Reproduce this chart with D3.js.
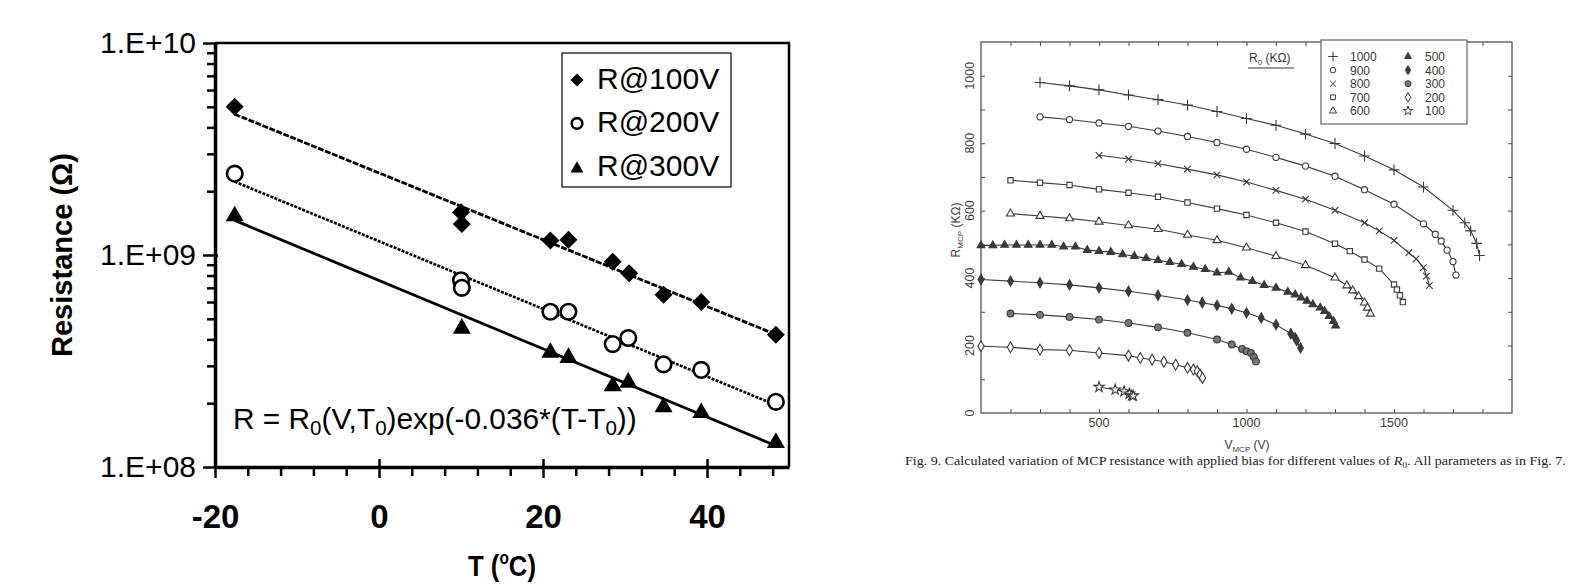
<!DOCTYPE html>
<html>
<head>
<meta charset="utf-8">
<script src="https://cdn.jsdelivr.net/npm/d3@7"></script>
<style>
  body { margin: 0; background: #fff; }
  svg { display: block; }
</style>
</head>
<body>
<script>
  // ============================================================
  // Data
  // ============================================================

  // left figure: resistance vs temperature (log scale)
  const r100T = [-17.6, 10.0, 10.1, 20.9, 23.1, 28.5, 30.5, 34.7, 39.3, 48.4];
  const r100R = [5.0e9, 1.59e9, 1.40e9, 1.17e9, 1.18e9, 9.3e8, 8.2e8, 6.5e8, 6.0e8, 4.2e8];
  const r200T = [-17.6, 10.0, 10.1, 20.9, 23.1, 28.5, 30.4, 34.7, 39.3, 48.4];
  const r200R = [2.42e9, 7.6e8, 7.0e8, 5.4e8, 5.4e8, 3.8e8, 4.06e8, 3.05e8, 2.87e8, 2.03e8];
  const r300T = [-17.6, 10.1, 20.9, 23.1, 28.5, 30.4, 34.7, 39.3, 48.4];
  const r300R = [1.56e9, 4.6e8, 3.54e8, 3.35e8, 2.46e8, 2.56e8, 1.96e8, 1.84e8, 1.33e8];
  const leftSeriesNames = ["R@100V", "R@200V", "R@300V"];
  const tempTicks = [-20, 0, 20, 40];
  const tempMinorTicks = [-16, -12, -8, -4, 4, 8, 12, 16, 24, 28, 32, 36, 44, 48];
  const resTicks = [1e8, 1e9, 1e10];
  const resMinorTicks = [2e8, 3e8, 4e8, 5e8, 6e8, 7e8, 8e8, 9e8, 2e9, 3e9, 4e9, 5e9, 6e9, 7e9, 8e9, 9e9];

  // right figure: MCP resistance vs bias, one series per R0 (kOhm)
  const r0Names = ["1000", "900", "800", "700", "600", "500", "400", "300", "200", "100"];
  const v1000 = [300, 400, 500, 600, 700, 800, 900, 1000, 1100, 1200, 1300, 1400, 1500, 1600, 1700, 1740, 1760, 1780, 1790];
  const rm1000 = [980, 970, 958, 943, 929, 913, 894, 873, 853, 827, 799, 762, 721, 670, 601, 564, 540, 503, 467];
  const v900 = [300, 400, 500, 600, 700, 800, 900, 1000, 1100, 1200, 1300, 1400, 1500, 1600, 1640, 1660, 1680, 1700, 1710];
  const rm900 = [878, 870, 860, 850, 836, 820, 802, 782, 758, 732, 702, 662, 619, 561, 530, 510, 483, 449, 409];
  const v800 = [500, 600, 700, 800, 900, 1000, 1100, 1200, 1300, 1400, 1450, 1500, 1550, 1575, 1600, 1610, 1620];
  const rm800 = [764, 753, 739, 723, 706, 685, 660, 634, 601, 564, 540, 512, 475, 457, 431, 406, 378];
  const v700 = [200, 300, 400, 500, 600, 700, 800, 900, 1000, 1100, 1200, 1300, 1350, 1400, 1450, 1500, 1510, 1520, 1530];
  const rm700 = [690, 683, 676, 663, 653, 641, 624, 606, 587, 564, 538, 502, 480, 455, 428, 381, 366, 349, 329];
  const v600 = [200, 300, 400, 500, 600, 700, 800, 900, 1000, 1100, 1200, 1300, 1340, 1360, 1380, 1400, 1410, 1420];
  const rm600 = [591, 584, 577, 567, 556, 545, 528, 512, 490, 465, 438, 401, 378, 363, 346, 327, 312, 294];
  const v500 = [100, 140, 180, 220, 260, 300, 340, 380, 420, 460, 500, 540, 580, 620, 660, 700, 740, 780, 820, 860,
    900, 940, 980, 1020, 1060, 1100, 1140, 1165, 1185, 1205, 1225, 1250, 1265, 1280, 1295, 1302];
  const rm500 = [497, 497, 498, 498, 498, 498, 498, 493, 493, 483, 480, 477, 470, 465, 459, 453, 447, 441, 433, 426,
    416, 418, 401, 391, 379, 371, 359, 351, 342, 332, 322, 312, 302, 287, 272, 259];
  const v400 = [100, 200, 300, 400, 500, 600, 700, 800, 850, 900, 950, 1000, 1050, 1100, 1150, 1165, 1170, 1183];
  const rm400 = [396, 391, 386, 380, 371, 361, 349, 335, 327, 319, 309, 297, 282, 262, 235, 223, 215, 193];
  const v300 = [200, 300, 400, 500, 600, 700, 800, 900, 950, 985, 1000, 1015, 1025, 1032];
  const rm300 = [295, 291, 285, 277, 267, 254, 238, 218, 203, 190, 183, 178, 166, 153];
  const v200 = [100, 200, 300, 400, 500, 600, 640, 680, 720, 760, 800, 820, 833, 842, 851];
  const rm200 = [198, 195, 188, 186, 178, 170, 163, 158, 152, 143, 134, 129, 124, 114, 104];
  const v100 = [500, 555, 585, 603, 611, 616];
  const rm100 = [77, 69, 64, 57, 52, 51];
  const biasTicks = [500, 1000, 1500];
  const rmcpTicks = [0, 200, 400, 600, 800, 1000];

  // ============================================================
  // Setup
  // ============================================================

  const W = 1573, H = 585;
  const svg = d3.select("body").append("svg")
    .attr("width", W).attr("height", H)
    .style("background", "#fff");

  const SANS = "'Liberation Sans', Arial, sans-serif";
  const NARROW = "'Liberation Sans Narrow', 'Arial Narrow', 'Liberation Sans', sans-serif";

  // squeeze a text element horizontally to a given width, keeping its anchor point
  function fitWidth(sel, width, ax) {
    const w = sel.node().getBBox().width;
    if (!w) return;
    const s = width / w;
    sel.attr("transform", `translate(${ax},0) scale(${s},1) translate(${-ax},0)`);
  }

  // ============================================================
  // Left chart
  // ============================================================

  const xL = d3.scaleLinear().domain([-20, 50]).range([215, 789]);
  const yL = d3.scaleLog().domain([1e8, 1e10]).range([467, 43]);
  const left = svg.append("g").attr("class", "left-chart");

  // frame (top & right)
  left.append("path")
    .attr("d", `M${xL(-20)},${yL(1e10)}H${xL(50)}V${yL(1e8)}`)
    .attr("fill", "none").attr("stroke", "#000").attr("stroke-width", 2.5);

  // x minor ticks
  left.append("g")
    .attr("transform", `translate(0,${yL(1e8)})`)
    .call(d3.axisBottom(xL).tickValues(tempMinorTicks).tickSize(9).tickFormat(""))
    .call(g => g.select(".domain").remove())
    .call(g => g.selectAll(".tick line").attr("stroke-width", 2.5));

  // x major axis
  const gxL = left.append("g")
    .attr("transform", `translate(0,${yL(1e8)})`)
    .call(d3.axisBottom(xL).tickValues(tempTicks).tickSize(11).tickSizeOuter(0)
      .tickPadding(27).tickFormat(d => String(d)));
  gxL.select(".domain").attr("stroke-width", 3.5);
  gxL.selectAll(".tick line").attr("y1", -8).attr("stroke-width", 2.5);
  gxL.selectAll(".tick text")
    .attr("font-family", NARROW).attr("font-weight", "bold")
    .attr("font-size", 33).attr("fill", "#000");

  // y minor ticks
  left.append("g")
    .attr("transform", `translate(${xL(-20)},0)`)
    .call(d3.axisLeft(yL).tickValues(resMinorTicks).tickSize(8).tickFormat(""))
    .call(g => g.select(".domain").remove())
    .call(g => g.selectAll(".tick line").attr("stroke-width", 2.5));

  // y major axis
  const gyL = left.append("g")
    .attr("transform", `translate(${xL(-20)},0)`)
    .call(d3.axisLeft(yL).tickValues(resTicks).tickSize(12).tickSizeOuter(0)
      .tickPadding(7).tickFormat(d => "1.E+" + String(Math.round(Math.log10(d))).padStart(2, "0")));
  gyL.select(".domain").attr("stroke-width", 3.5);
  gyL.selectAll(".tick line").attr("x1", 3).attr("stroke-width", 2.5);
  gyL.selectAll(".tick text")
    .attr("font-family", SANS).attr("font-size", 30).attr("fill", "#000");

  // axis titles, centred on the plot area
  const plotMidX = (xL.range()[0] + xL.range()[1]) / 2;
  const plotMidY = (yL.range()[0] + yL.range()[1]) / 2;

  left.append("text")
    .attr("transform", `translate(72,${plotMidY}) rotate(-90)`)
    .attr("text-anchor", "middle")
    .attr("font-family", SANS).attr("font-weight", "bold").attr("font-size", 29)
    .attr("textLength", 204).attr("lengthAdjust", "spacingAndGlyphs")
    .text("Resistance (Ω)");

  const xTitle = left.append("text")
    .attr("x", plotMidX).attr("y", 576)
    .attr("text-anchor", "middle")
    .attr("font-family", NARROW).attr("font-weight", "bold").attr("font-size", 30);
  xTitle.append("tspan").text("T (");
  xTitle.append("tspan").attr("font-size", 18).attr("dy", -12).text("o");
  xTitle.append("tspan").attr("dy", 12).text("C)");
  fitWidth(xTitle, 68, plotMidX);

  // series: fitted lines + markers
  const leftSeries = [
    { name: leftSeriesNames[0], T: r100T, R: r100R, shape: "diamond", dash: "6,1.5", width: 2.8 },
    { name: leftSeriesNames[1], T: r200T, R: r200R, shape: "circle", dash: "3,1.3", width: 2.6 },
    { name: leftSeriesNames[2], T: r300T, R: r300R, shape: "triangle", dash: null, width: 2.8 },
  ];

  // least squares fit of log10(R) against T
  function fitLog(T, R) {
    const n = T.length;
    const ly = R.map(Math.log10);
    const mx = d3.mean(T), my = d3.mean(ly);
    let sxy = 0, sxx = 0;
    for (let i = 0; i < n; i++) {
      sxy += (T[i] - mx) * (ly[i] - my);
      sxx += (T[i] - mx) * (T[i] - mx);
    }
    const b = sxy / sxx;
    return t => Math.pow(10, my + b * (t - mx));
  }

  const markerPath = {
    diamond: (s) => d3.symbol(d3.symbolSquare, s * s / 2)(),
    triangle: (s) => d3.symbol(d3.symbolTriangle, Math.sqrt(3) / 4 * s * s)(),
  };

  function drawLeftMarker(g, shape, x, y, s) {
    if (shape === "circle") {
      g.append("circle").attr("cx", x).attr("cy", y).attr("r", s / 2 - 1.2)
        .attr("fill", "#fff").attr("stroke", "#000").attr("stroke-width", 2.6);
    } else if (shape === "diamond") {
      g.append("path").attr("d", markerPath.diamond(s))
        .attr("transform", `translate(${x},${y}) rotate(45)`).attr("fill", "#000");
    } else {
      g.append("path").attr("d", markerPath.triangle(s))
        .attr("transform", `translate(${x},${y + 2})`).attr("fill", "#000");
    }
  }

  leftSeries.forEach(s => {
    const f = fitLog(s.T, s.R);
    const t0 = d3.min(s.T), t1 = d3.max(s.T);
    left.append("line")
      .attr("x1", xL(t0)).attr("y1", yL(f(t0)))
      .attr("x2", xL(t1)).attr("y2", yL(f(t1)))
      .attr("stroke", "#000").attr("stroke-width", s.width)
      .attr("stroke-dasharray", s.dash);
  });

  leftSeries.forEach(s => {
    const g = left.append("g").attr("class", "markers");
    s.T.forEach((t, i) => drawLeftMarker(g, s.shape, xL(t), yL(s.R[i]), 18));
  });

  // legend
  const legL = left.append("g").attr("class", "legend");
  legL.append("rect")
    .attr("x", 562).attr("y", 53).attr("width", 169).attr("height", 134)
    .attr("fill", "#fff").attr("stroke", "#000").attr("stroke-width", 1.2);
  leftSeries.forEach((s, i) => {
    const cy = 80 + i * 43.4;
    drawLeftMarker(legL, s.shape, 577, cy, 13);
    legL.append("text")
      .attr("x", 597).attr("y", cy + 9)
      .attr("font-family", SANS).attr("font-size", 30)
      .text(s.name);
  });

  // equation
  const eq = left.append("text")
    .attr("x", 233).attr("y", 429)
    .attr("font-family", SANS).attr("font-size", 29);
  eq.append("tspan").text("R = R");
  eq.append("tspan").attr("font-size", 20).attr("dy", 6).text("0");
  eq.append("tspan").attr("dy", -6).text("(V,T");
  eq.append("tspan").attr("font-size", 20).attr("dy", 6).text("0");
  eq.append("tspan").attr("dy", -6).text(")exp(-0.036*(T-T");
  eq.append("tspan").attr("font-size", 20).attr("dy", 6).text("0");
  eq.append("tspan").attr("dy", -6).text("))");
  fitWidth(eq, 404, 233);

  // ============================================================
  // Right chart
  // ============================================================

  const INK = "#3a3a3a";
  const xR = d3.scaleLinear().domain([100, 1900]).range([981, 1512]);
  const yR = d3.scaleLinear().domain([0, 1100]).range([413, 42]);
  const right = svg.append("g").attr("class", "right-chart");

  right.append("rect")
    .attr("x", xR(100)).attr("y", yR(1100))
    .attr("width", xR(1900) - xR(100)).attr("height", yR(0) - yR(1100))
    .attr("fill", "none").attr("stroke", "#555").attr("stroke-width", 1.3);

  const vTicks = d3.range(200, 1900, 100);
  const rTicks = d3.range(100, 1100, 100);
  const tickStyle = g => {
    g.select(".domain").remove();
    g.selectAll(".tick line").attr("stroke", "#555").attr("stroke-width", 1.1);
  };
  right.append("g").attr("transform", `translate(0,${yR(0)})`)
    .call(d3.axisTop(xR).tickValues(vTicks).tickSize(4).tickFormat("")).call(tickStyle);
  right.append("g").attr("transform", `translate(0,${yR(1100)})`)
    .call(d3.axisBottom(xR).tickValues(vTicks).tickSize(4).tickFormat("")).call(tickStyle);
  right.append("g").attr("transform", `translate(${xR(100)},0)`)
    .call(d3.axisRight(yR).tickValues(rTicks).tickSize(4).tickFormat("")).call(tickStyle);
  right.append("g").attr("transform", `translate(${xR(1900)},0)`)
    .call(d3.axisLeft(yR).tickValues(rTicks).tickSize(4).tickFormat("")).call(tickStyle);

  // tick labels
  right.append("g").selectAll("text")
    .data(biasTicks).join("text")
    .attr("x", d => xR(d)).attr("y", yR(0) + 14)
    .attr("text-anchor", "middle")
    .attr("font-family", SANS).attr("font-size", 12.5).attr("fill", INK)
    .text(d => d);
  right.append("g").selectAll("text")
    .data(rmcpTicks).join("text")
    .attr("transform", d => `translate(${xR(100) - 7},${yR(d)}) rotate(-90)`)
    .attr("text-anchor", "middle")
    .attr("font-family", SANS).attr("font-size", 12.5).attr("fill", INK)
    .text(d => d);

  // axis titles
  const xTitleR = right.append("text")
    .attr("x", 1247).attr("y", 449).attr("text-anchor", "middle")
    .attr("font-family", SANS).attr("font-size", 12).attr("fill", INK);
  xTitleR.append("tspan").text("V");
  xTitleR.append("tspan").attr("font-size", 8).attr("dy", 3).text("MCP");
  xTitleR.append("tspan").attr("dy", -3).text(" (V)");

  const yTitleR = right.append("text")
    .attr("transform", "translate(960,230) rotate(-90)").attr("text-anchor", "middle")
    .attr("font-family", SANS).attr("font-size", 12).attr("fill", INK);
  yTitleR.append("tspan").text("R");
  yTitleR.append("tspan").attr("font-size", 8).attr("dy", 3).text("MCP");
  yTitleR.append("tspan").attr("dy", -3).text(" (KΩ)");

  // series
  const rightSeries = [
    { name: r0Names[0], V: v1000, R: rm1000, sym: d3.symbolPlus, size: 40, fill: "none" },
    { name: r0Names[1], V: v900, R: rm900, sym: d3.symbolCircle, size: 30, fill: "#fff" },
    { name: r0Names[2], V: v800, R: rm800, sym: d3.symbolTimes, size: 30, fill: "none" },
    { name: r0Names[3], V: v700, R: rm700, sym: d3.symbolSquare, size: 28, fill: "#fff" },
    { name: r0Names[4], V: v600, R: rm600, sym: d3.symbolTriangle, size: 28, fill: "#fff" },
    { name: r0Names[5], V: v500, R: rm500, sym: d3.symbolTriangle, size: 26, fill: INK },
    { name: r0Names[6], V: v400, R: rm400, sym: d3.symbolDiamond, size: 30, fill: INK },
    { name: r0Names[7], V: v300, R: rm300, sym: d3.symbolCircle, size: 36, fill: "#777" },
    { name: r0Names[8], V: v200, R: rm200, sym: d3.symbolDiamond, size: 34, fill: "#fff" },
    { name: r0Names[9], V: v100, R: rm100, sym: d3.symbolStar, size: 34, fill: "#fff" },
  ];

  const lineR = d3.line().x(d => xR(d[0])).y(d => yR(d[1]));

  rightSeries.forEach(s => {
    const pts = s.V.map((v, i) => [v, s.R[i]]);
    right.append("path")
      .attr("d", lineR(pts))
      .attr("fill", "none").attr("stroke", INK).attr("stroke-width", 1.1);
    right.append("g").selectAll("path")
      .data(pts).join("path")
      .attr("d", d3.symbol(s.sym, s.size))
      .attr("transform", d => `translate(${xR(d[0])},${yR(d[1])})`)
      .attr("fill", s.fill).attr("stroke", INK).attr("stroke-width", 1.1);
  });

  // R0 heading
  const r0Head = right.append("text")
    .attr("x", 1249).attr("y", 62)
    .attr("font-family", SANS).attr("font-size", 12).attr("fill", INK);
  r0Head.append("tspan").text("R");
  r0Head.append("tspan").attr("font-size", 8).attr("dy", 3).text("0");
  r0Head.append("tspan").attr("dy", -3).text("  (KΩ)");
  right.append("line")
    .attr("x1", 1248).attr("x2", 1294).attr("y1", 68).attr("y2", 68)
    .attr("stroke", INK).attr("stroke-width", 1.2);

  // legend
  const legR = right.append("g").attr("class", "legend");
  legR.append("rect")
    .attr("x", 1321).attr("y", 40).attr("width", 146).attr("height", 84)
    .attr("fill", "#fff").attr("stroke", "#555").attr("stroke-width", 1.1);
  rightSeries.forEach((s, i) => {
    const col = Math.floor(i / 5), row = i % 5;
    const mx = 1333 + col * 75, my = 56.5 + row * 13.6;
    legR.append("path")
      .attr("d", d3.symbol(s.sym, s.size * 0.8))
      .attr("transform", `translate(${mx},${my})`)
      .attr("fill", s.fill).attr("stroke", INK).attr("stroke-width", 1);
    legR.append("text")
      .attr("x", mx + 17).attr("y", my + 4.5)
      .attr("font-family", SANS).attr("font-size", 12).attr("fill", INK)
      .text(s.name);
  });

  // caption
  const cap = right.append("text")
    .attr("x", 905).attr("y", 465)
    .attr("font-family", "'Liberation Serif', 'Times New Roman', serif")
    .attr("font-size", 13).attr("fill", "#222");
  cap.append("tspan").text("Fig. 9. Calculated variation of MCP resistance with applied bias for different values of ");
  cap.append("tspan").attr("font-style", "italic").text("R");
  cap.append("tspan").attr("font-size", 9).attr("dy", 3).text("0");
  cap.append("tspan").attr("dy", -3).text(". All parameters as in Fig. 7.");
  fitWidth(cap, 662, 905);
</script>
</body>
</html>
